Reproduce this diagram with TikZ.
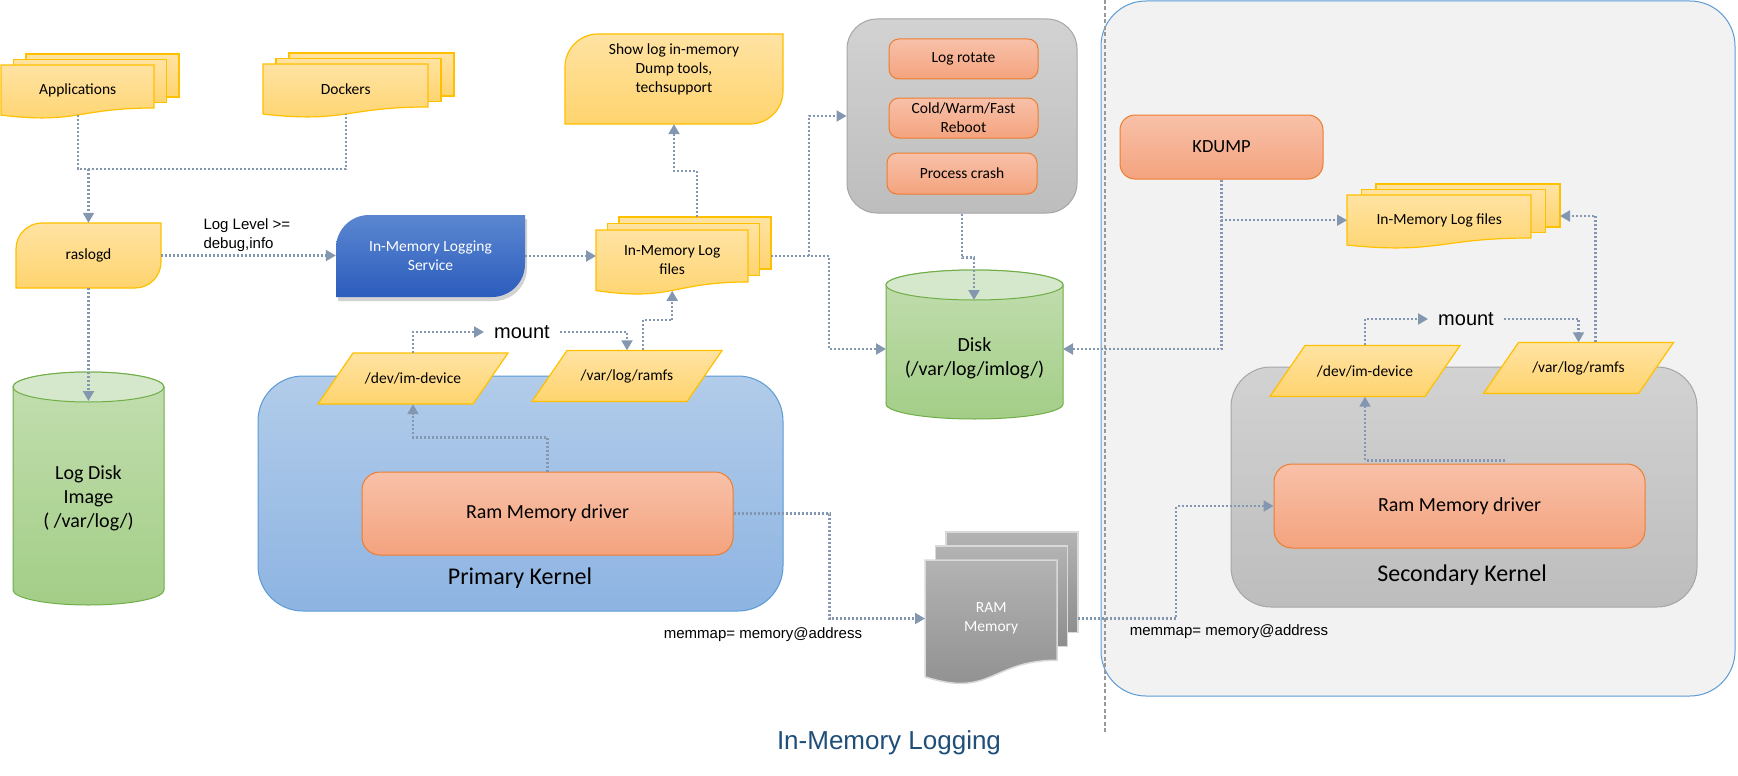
\documentclass[tikz,border=0pt]{standalone}
\usepackage{fontspec}
\setmainfont{Carlito}
\newfontfamily\arialfont{Liberation Sans}
\usetikzlibrary{arrows.meta,shadows}

\definecolor{ybord}{HTML}{FFC000}
\definecolor{ytop}{HTML}{FFE3A3}
\definecolor{ybot}{HTML}{FFD46E}
\definecolor{obord}{HTML}{ED7D31}
\definecolor{otop}{HTML}{F8C1A9}
\definecolor{obot}{HTML}{F4A37E}
\definecolor{gbord}{HTML}{A6A6A6}
\definecolor{gtop}{HTML}{D2D2D2}
\definecolor{gbot}{HTML}{BDBDBD}
\definecolor{kbord}{HTML}{5B9BD5}
\definecolor{ktop}{HTML}{B2CCEA}
\definecolor{kbot}{HTML}{8DB4E2}
\definecolor{svtop}{HTML}{5B87D0}
\definecolor{svbot}{HTML}{2C5CBD}
\definecolor{cbord}{HTML}{70AD47}
\definecolor{ctop}{HTML}{C3DEB0}
\definecolor{cbot}{HTML}{A3CE87}
\definecolor{cend}{HTML}{D5E8CB}
\definecolor{linkc}{HTML}{8497B0}
\definecolor{panelc}{HTML}{F2F2F2}
\definecolor{ramtop}{HTML}{B3B3B3}
\definecolor{rambot}{HTML}{8E8E8E}
\definecolor{titlec}{HTML}{1F4E79}

% pile de feuilles : style, nom, x, y, largeur, hauteur, dx, dy, texte
\newcommand{\docstack}[9]{%
  \foreach \k in {2,1} {
    \draw[#1] ({#3+#7*\k},{#4+#8*\k}) rectangle ++(#5,{-0.802*#6});
  }
  \draw[#1] (#3,#4) -- ++(#5,0) -- ++(0,{-0.802*#6})
    .. controls ({#3+0.5*#5},{#4-0.802*#6}) and ({#3+0.5*#5},{#4-1.1075*#6}) .. (#3,{#4-0.934*#6}) -- cycle;
  \node[#1 text, minimum width=#5pt, minimum height={0.933*#6pt}, anchor=north west] (#2) at (#3,#4) {#9};
}

% deux coins arrondis : style, x1, yhaut, x2, ybas, rayon
\newcommand{\diagcorner}[6]{%
  \path[#1] (#2,#3-#6) arc[start angle=180,end angle=90,radius=#6] -- (#4,#3)
    -- (#4,#5+#6) arc[start angle=0,end angle=-90,radius=#6] -- (#2,#5) -- cycle;
}

% parallelogramme : nom, x, y, texte
\newcommand{\paral}[4]{%
  \path[yshape] (#2-95,#3-25.5) -- (#2-60,#3+25.5) -- (#2+95,#3+25.5) -- (#2+60,#3-25.5) -- cycle;
  \node[txt, minimum width=190pt, minimum height=51pt, inner sep=0pt] (#1) at (#2,#3) {#4};
}

% disque : x1, x2, yhaut, ybas
\newcommand{\diskcyl}[4]{%
  \path[draw=cbord, line width=1pt, top color=ctop, bottom color=cbot]
    (#1,#3) -- (#1,#4) arc[start angle=180,end angle=360,x radius={(#2-#1)/2},y radius=15]
    -- (#2,#3) arc[start angle=0,end angle=180,x radius={(#2-#1)/2},y radius=15] -- cycle;
  \path[draw=cbord, line width=1pt, fill=cend] ({(#1+#2)/2},#3) ellipse [x radius={(#2-#1)/2}, y radius=15];
}

\tikzset{
  txt/.style={font=\fontsize{15.5}{19}\selectfont, align=center},
  ysheet/.style={draw=ybord, line width=1.2pt, top color=ytop, bottom color=ybot},
  gsheet/.style={draw=gray!30, line width=1.5pt, top color=ramtop, bottom color=rambot},
  ysheet text/.style={txt, inner sep=0pt},
  gsheet text/.style={txt, inner sep=0pt, text=white},
  yshape/.style={draw=ybord, line width=1.2pt, top color=ytop, bottom color=ybot},
  svshape/.style={top color=svtop, bottom color=svbot, drop shadow={opacity=0.35, shadow xshift=2pt, shadow yshift=-4pt}},
  obox/.style={txt, draw=obord, line width=1pt, top color=otop, bottom color=obot, rounded corners=10pt, inner sep=0pt},
  gbox/.style={draw=gbord, line width=1pt, top color=gtop, bottom color=gbot, inner sep=0pt},
  kbox/.style={draw=kbord, line width=1pt, top color=ktop, bottom color=kbot, rounded corners=45pt, inner sep=0pt},
  panel/.style={draw=kbord, line width=1pt, fill=panelc, rounded corners=45pt, inner sep=0pt},
  disktxt/.style={font=\fontsize{20}{24}\selectfont, align=center},
  bigtxt/.style={font=\fontsize{24}{28}\selectfont},
  atxt/.style={font=\arialfont\fontsize{15}{19}\selectfont, align=left},
  mtxt/.style={font=\arialfont\fontsize{20}{24}\selectfont, inner sep=10pt},
  sepline/.style={draw=gray!80, line width=1.6pt, dash pattern=on 4pt off 2.5pt},
  link/.style={draw=linkc, line width=2.1pt, dash pattern=on 2pt off 2pt},
  arrow/.style={link, -{Triangle[width=11pt,length=10pt]}}
}

\begin{document}
\begin{tikzpicture}[x=1pt,y=1pt]
    % Fond
    \useasboundingbox (0,0) rectangle (1738,-776);
    \fill[white] (0,0) rectangle (1738,-776);

    % Partie secondaire
    \node[panel, minimum width=634pt, minimum height=695pt] (rpan) at (1418,-348.5) {};
    \draw[sepline] (1105,0) -- (1105,-733);

    % Noyaux
    \node[kbox, minimum width=525pt, minimum height=235pt] (pk) at (520.5,-493.5) {};
    \node[bigtxt] (pkl) at (520,-578) {Primary Kernel};
    \node[gbox, rounded corners=40pt, minimum width=466pt, minimum height=240pt] (sk) at (1464,-487) {};
    \node[bigtxt] (skl) at (1462,-575) {Secondary Kernel};

    % Evenements
    \node[gbox, rounded corners=30pt, minimum width=230pt, minimum height=194pt] (grp) at (962,-116) {};
    \node[obox, minimum width=149pt, minimum height=40pt] (rot) at (963.5,-59) {Log rotate};
    \node[obox, minimum width=149pt, minimum height=40pt] (reb) at (963.5,-118) {Cold/Warm/Fast\\Reboot};
    \node[obox, minimum width=150pt, minimum height=41pt] (crash) at (962,-173.5) {Process crash};
    \node[obox, rounded corners=15pt, minimum width=203pt, minimum height=64pt, font=\fontsize{18.5}{22}\selectfont] (kd) at (1221.5,-147) {KDUMP};

    % Pilotes
    \node[obox, rounded corners=18pt, minimum width=371pt, minimum height=83pt, font=\fontsize{20}{24}\selectfont] (drvA) at (547.5,-513.5) {Ram Memory driver};
    \node[obox, rounded corners=18pt, minimum width=371pt, minimum height=84pt, font=\fontsize{20}{24}\selectfont] (drvB) at (1459.5,-506) {Ram Memory driver};

    % Points de montage
    \paral{devA}{413}{-378.5}{/dev/im-device}
    \paral{ramA}{627}{-376}{/var/log/ramfs}
    \paral{devB}{1365}{-371}{/dev/im-device}
    \paral{ramB}{1578.5}{-368}{/var/log/ramfs}

    % Piles de fichiers
    \docstack{ysheet}{apps}{1}{-65}{153}{53.6}{12.5}{5.5}{Applications}
    \docstack{ysheet}{dock}{263}{-64}{165}{53.6}{13}{5.5}{Dockers}
    \docstack{ysheet}{imlog}{596}{-230}{152}{64.8}{11.5}{6.5}{In-Memory Log\\files}
    \docstack{ysheet}{imlogB}{1347}{-195}{184}{53.6}{14.5}{5.5}{In-Memory Log files}
    \docstack{gsheet}{ram}{925}{-560}{132}{125}{10.5}{14}{RAM\\Memory}

    % Disques
    \diskcyl{13}{164}{-387}{-590}
    \node[disktxt] (ldisk) at (88.5,-498) {Log Disk\\Image\\( /var/log/)};
    \diskcyl{886}{1063}{-285}{-404}
    \node[disktxt] (disk) at (974.5,-358) {Disk\\(/var/log/imlog/)};

    % Services
    \diagcorner{yshape}{16}{-223}{161}{-288}{26}
    \node[txt, minimum width=145pt, minimum height=65pt] (rasl) at (88.5,-255.5) {raslogd};
    \diagcorner{yshape}{565}{-34}{783}{-124}{33}
    \node[txt, minimum width=218pt, minimum height=110pt] (show) at (674,-69) {Show log in-memory\\Dump tools,\\techsupport};
    \diagcorner{svshape}{336}{-215}{525}{-297}{33}
    \node[txt, text=white, minimum width=189pt, minimum height=82pt] (svc) at (430.5,-256) {In-Memory Logging\\Service};

    % Textes
    \node[atxt, anchor=west] (lvl) at (200,-235) {Log Level >=\\debug,info};
    \node[mtxt] (mntA) at (522,-332) {mount};
    \node[mtxt] (mntB) at (1466,-319) {mount};
    \node[atxt] (mmA) at (763,-635) {memmap= memory@address};
    \node[atxt] (mmB) at (1229,-632) {memmap= memory@address};
    \node[font=\arialfont\fontsize{26}{30}\selectfont, text=titlec] (ttl) at (889,-743) {In-Memory Logging};

    % Points de passage
    \coordinate (j1) at (88.5,-169);
    \coordinate (j2) at (809,-256);
    \coordinate (imlogtop) at (697,-217);
    \coordinate (imlogR) at (771,-256);
    \coordinate (imlogBR) at (1560,-216);
    \coordinate (ldisktop) at (88.5,-401);
    \coordinate (disktop) at (974,-300);
    \coordinate (diskW) at (886,-349);
    \coordinate (diskE) at (1063,-349);

    % Liaisons
    \draw[link] (apps.south) |- (j1) -| (dock.south);
    \draw[arrow] (j1) -- (rasl.north);
    \draw[arrow] (rasl.south) -- (ldisktop);
    \draw[arrow] (rasl.east) -- (rasl.east -| svc.west);
    \draw[arrow] (svc.east) -- (svc.east -| imlog.west);
    \draw[arrow] (imlogtop) -- ++(0,46) -| (show.south);
    \draw[arrow] (imlogR) -- ++(58,0) |- (diskW);
    \draw[arrow] (j2) |- (grp.west);
    \draw[arrow] (grp.south) -- ++(0,-44) -| (disktop);
    \draw[arrow] (kd.south) |- (imlogB.west);
    \draw[arrow] (kd.south) |- (diskE);
    \draw[arrow] (devA.north) |- (mntA.west);
    \draw[arrow] (mntA.east) -| (ramA.north);
    \draw[arrow] ([xshift=16pt]ramA.north) -- ++(0,30) -| (imlog.south);
    \draw[arrow] (drvA.north) -- ++(0,34) -| (devA.south);
    \draw[arrow] (drvA.east) -- ++(96,0) |- (ram.west);
    \draw[arrow] ([xshift=21pt]ram.east) -- ++(98,0) |- (drvB.west);
    \draw[arrow] ([xshift=45pt,yshift=3pt]drvB.north) -| (devB.south);
    \draw[arrow] (devB.north) |- (mntB.west);
    \draw[arrow] (mntB.east) -| (ramB.north);
    \draw[arrow] ([xshift=17pt]ramB.north) |- (imlogBR);
\end{tikzpicture}
\end{document}
